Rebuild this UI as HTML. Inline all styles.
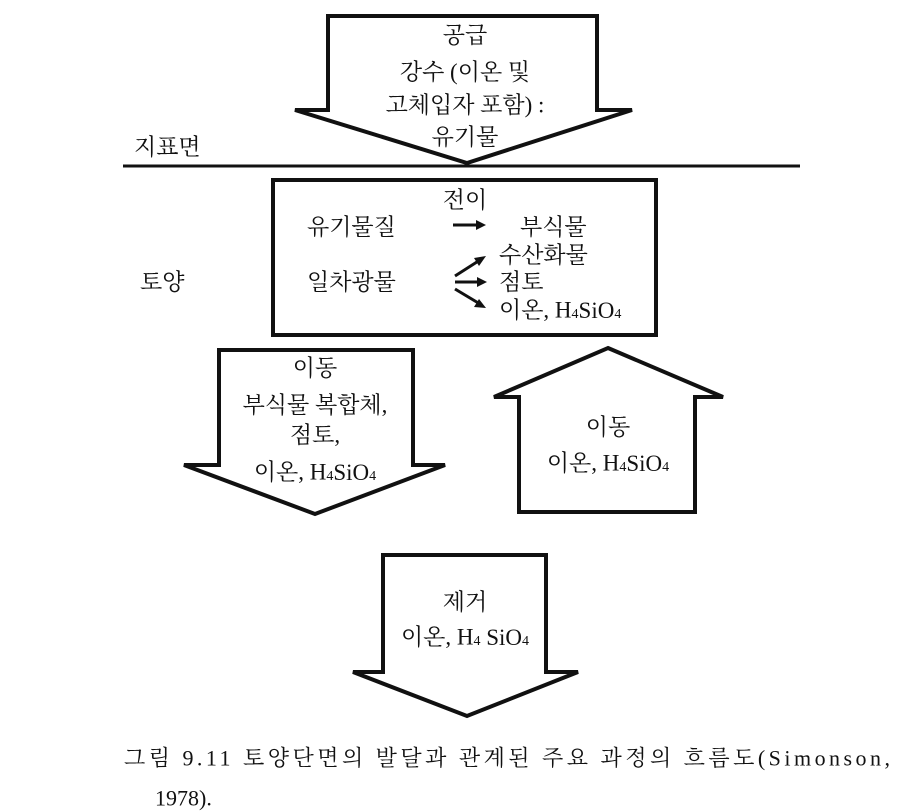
<!DOCTYPE html>
<html><head><meta charset="utf-8"><style>
html,body{margin:0;padding:0;background:#fff;}
svg{display:block;}
text{font-family:"Liberation Serif","Noto Serif CJK SC","Noto Sans CJK KR",serif;fill:#111;}
</style></head><body>
<svg width="923" height="812" viewBox="0 0 923 812" xmlns="http://www.w3.org/2000/svg">
<g fill="none" stroke="#111" stroke-width="4" stroke-linejoin="miter">
<polygon points="328,16 597,16 597,110 632,110 467,163 295,110 328,110"/>
<line x1="123" y1="166" x2="800" y2="166" stroke-width="3"/>
<rect x="273" y="180" width="383" height="155"/>
<polygon points="219,350 413,350 413,465 445,465 315,514 184,465 219,465"/>
<polygon points="608,348 723,397 695,397 695,512 519,512 519,397 494,397"/>
<polygon points="383,555 546,555 546,672 578,672 467,716 353,672 383,672"/>
<g stroke-width="3">
<line x1="453" y1="225" x2="478" y2="225"/>
<line x1="455" y1="276" x2="480" y2="260"/>
<line x1="455" y1="282" x2="480" y2="282"/>
<line x1="455" y1="289" x2="480" y2="304"/>
</g>
</g>
<g fill="#111">
<polygon points="486,225 476,220 476,230"/>
<polygon points="486,256 474,258 479,266"/>
<polygon points="487,282 477,277 477,287"/>
<polygon points="486,308 479,299 474,307"/>
</g>
<g font-size="23" text-anchor="middle" dominant-baseline="central">
<text x="465" y="35">공급</text>
<text x="465" y="72">강수 (이온 및</text>
<text x="465" y="105">고체입자 포함) :</text>
<text x="465" y="137">유기물</text>
<text x="465" y="200">전이</text>
<text x="315" y="368">이동</text>
<text x="315" y="405">부식물 복합체,</text>
<text x="315" y="435">점토,</text>
<text x="315" y="472">이온, H<tspan font-size="14" dy="4">4</tspan><tspan dy="-4">SiO</tspan><tspan font-size="14" dy="4">4</tspan></text>
<text x="608" y="427">이동</text>
<text x="608" y="463">이온,  H<tspan font-size="14" dy="4">4</tspan><tspan dy="-4">SiO</tspan><tspan font-size="14" dy="4">4</tspan></text>
<text x="465" y="602">제거</text>
<text x="465" y="637">이온, H<tspan font-size="14" dy="4">4</tspan><tspan dy="-4"> SiO</tspan><tspan font-size="14" dy="4">4</tspan></text>
</g>
<g font-size="23" dominant-baseline="central">
<text x="134" y="147">지표면</text>
<text x="140" y="282">토양</text>
<text x="307" y="227">유기물질</text>
<text x="520" y="227">부식물</text>
<text x="499" y="255">수산화물</text>
<text x="307" y="282">일차광물</text>
<text x="499" y="282">점토</text>
<text x="499" y="310">이온, H<tspan font-size="14" dy="4">4</tspan><tspan dy="-4">SiO</tspan><tspan font-size="14" dy="4">4</tspan></text>
<text x="124" y="758" font-size="22" textLength="766" lengthAdjust="spacing">그림  9.11  토양단면의  발달과  관계된  주요  과정의  흐름도(Simonson,</text>
<text x="155" y="798" font-size="22">1978).</text>
</g>
</svg>
</body></html>
